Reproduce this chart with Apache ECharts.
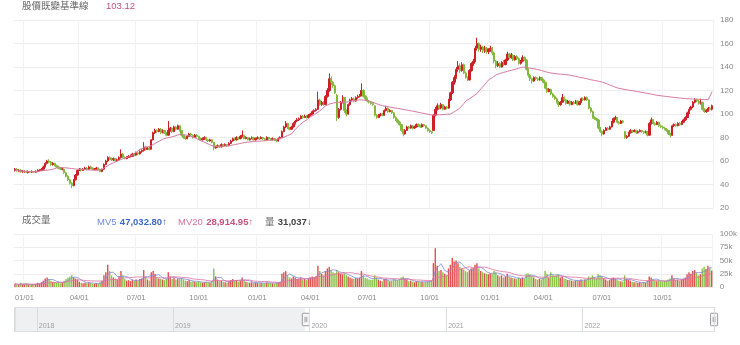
<!DOCTYPE html>
<html>
<head>
<meta charset="utf-8">
<script src="https://cdn.jsdelivr.net/npm/echarts@6/dist/echarts.min.js"></script>
<style>html,body{margin:0;padding:0;background:#fff;}#chart{width:740px;height:345px;}</style>
</head>
<body>
<div id="chart"></div>
<script>
// each row: [open, close, low, high, volume (thousands), baseline]
const dec2019 = [
[52,53,51,54,6,52],[53,52,51,54,4,51.8],[51,52,51,53,5,51.6],[52,51,50,53,8,51.5],[51,51.5,50,52,5,51.3]
];
const q1_2020 = [
[51,51,50,52,5,51.2],[51,50.5,50,52,6,51.1],[50,51,49.5,52,5,51],[51,50.5,50,51.5,4,51],[50.5,51,50,52,5,51],
[51,50.5,50,51.5,4,51],[50.5,51,50,52,6,51],[51,52,50.5,53,8,51.2],[52,52,51,53,7,51.4],[52,53,51.5,54,9,51.6],
[53,55,52.5,56,12,51.8],[55,58,54.5,59,16,52],[58,60,57,61,18,52.2],[60,59,58,61.5,15,52.4],[59,57,56,60,12,52.6],
[57,58,56,59,10,53],[58,56,55.5,58.5,9,53.5],[56,55,54,57,8,54],[55,54,53,56,9,54.3],[54,53,52.5,55,7,54.5],
[53,53,52,54,8,54.4],[53,50,49,53.5,12,54.3],[50,47,46,51,15,54.2],[47,44,43,48,18,54],[44,41,40,45,20,53.8],
[41,39,37,42,22,53.6],[39,44,38.5,44.5,18,53.4],[44,48,43.5,49,16,53.2],[48,52,47.5,52.5,14,53]
];
const q2_2020 = [
[52,53,51.5,54,10,52.9],[53,52,51,54,8,52.8],[52,53,51.5,54,7,52.7],[53,54,52.5,55,8,52.6],[54,53,52,55,7,52.5],
[53,55,52.5,56,9,52.4],[55,54,53,56,8,52.3],[54,53,52.5,54.5,6,52.2],[53,53,52,54,6,52.2],[53,54,52.5,55,7,52.1],
[54,53,52,54.5,6,52.1],[53,51,50.5,53.5,9,52],[51,53,50.5,53.5,12,53],[53,57,52.5,58,22,54],[57,60,56.5,61,28,55],
[60,63,59,64,42,56],[63,62,61,64,30,57],[62,61,60,63,22,57.8],[61,62,60,63,18,58.5],[62,60,59.5,62.5,16,59.3],
[60,61,59.5,62,14,60],[61,63,60.5,64,20,60.7],[63,66,62,70,30,61.3],[66,63,62.5,67,22,61.9],[63,62,61.5,64,15,62.5],
[62,63,61.5,64,12,63],[63,64,62.5,65,13,63.6],[64,64,63,65.5,11,64],[64,66,63.5,67,14,65],[66,65,64,67,12,66]
];
const q3_2020 = [
[65,67,64.5,68,14,67.5],[67,66,65,68,12,68.5],[66,68,65.5,69,15,70],[68,69,67,70,16,70.5],[69,72,68,76,32,71],
[72,70,69,73,20,71.5],[70,71,69.5,72,14,72],[71,70,69,72,12,72.5],[70,78,70,78.5,28,73],[78,84,77.5,85,30,74],
[84,86,83,87.5,25,75],[86,85,84,87,18,75.8],[85,87,84.5,88,16,76.7],[87,84,83,88,15,77.6],[84,86,83.5,87,14,78.5],
[86,84,83,86.5,13,79.2],[84,82,81,84.5,16,79.5],[82,86,81.5,94,28,79.8],[86,88,85,89,20,80.2],[88,85,84,88.5,15,80.6],
[85,89,84.5,90,18,81],[89,87,86,90,14,81.6],[87,90,86.5,91,16,82.2],[90,86,85,90.5,15,83],[86,82,81,86.5,17,82.8],
[82,80,79,83,14,82.5],[80,79,78,81,12,82.2],[79,81,78.5,82,11,81.9],[81,83,80.5,84,13,81.5],[83,82,81,84,10,81],
[82,80,79,82.5,11,80.4],[80,82,79.5,83,10,79.8],[82,81,80,83,9,79]
];
const q4_2020 = [
[81,79,78,81.5,10,78.2],[79,78,77,80,9,77.4],[78,79,77.5,80,8,76.7],[79,80,78,81,9,76],[80,78,77,80.5,10,75.2],
[78,77,76,78.5,9,74.5],[77,78,76.5,79,8,73.7],[78,76,75,78.5,11,73],[76,71,69,76,35,72.2],[71,72,70.5,73,20,72.2],
[72,73,71.5,74,14,72.3],[73,72,71,73.5,11,72.4],[72,74,71.5,75,12,72.5],[74,73,72,74.5,10,72.6],[73,74,72.5,75,9,72.7],
[74,73,72,74.5,8,72.8],[73,75,72.5,76,11,73],[75,77,74.5,78,13,73.3],[77,79,76.5,80,15,73.7],[79,78,77,80,12,74],
[78,80,77.5,81,13,74.3],[80,79,78,80.5,10,74.6],[79,81,78.5,82,12,75],[81,82,80,86,18,75.3],[82,79,78.5,82.5,13,75.6],
[79,80,78.5,81,10,75.9],[80,78,77.5,80.5,9,76.1],[78,79,77.5,80,8,76.3],[79,80,78.5,81,9,76.5],[80,78,77.5,80.5,8,76.6],
[78,79,77.5,80,8,76.7]
];
const q1_2021 = [
[79,80,78.5,81,8,76.8],[80,79,78,80.5,7,76.9],[79,80,78.5,81,8,77],[80,79,78,80.5,7,77],[79,78,77,79.5,7,77.2],
[78,80,77.5,81,9,77.4],[80,79,78,80.5,8,77.6],[79,78,77.5,79.5,7,77.8],[78,79,77.5,80,7,78],[79,78,77,79.5,6,78.2],
[78,77,76,78.5,8,78.4],[77,79,76.5,80,9,78.7],[79,80,78.5,81,10,79],[80,85,79.5,86,25,79.6],[85,89,84.5,90,28,80.2],
[89,92,88,94,30,81],[92,88,87,92.5,22,81.7],[88,87,86,89,18,82],[87,89,86.5,90,16,83],[89,92,88.5,93,20,84.5],
[92,94,91,95,18,87],[94,95,93,96.5,15,88.5],[95,96,94,97,16,90],[96,98,95.5,99,18,91.5],[98,97,96,99,14,93],
[97,98,96.5,99.5,15,94],[98,97,96,99,13,95],[97,99,96.5,100,16,96]
];
const q2_2021 = [
[99,100,98,101,18,97.5],[100,102,99.5,103,20,98.5],[102,103,101,104,18,99.5],[103,104,102,105,20,100.5],[104,112,103.5,119,40,101.5],
[112,108,107,113,30,103],[108,110,107,111,25,104],[110,108,107,111,22,105.5],[108,115,107.5,116,30,107],[115,120,114,122,35,108],
[120,130,119,134.5,38,108.5],[130,127,125,132,32,109],[127,124,122,128,28,109.3],[124,118,117,125,26,109.7],[116,97,94,117,32,110],
[97,104,96,105,28,110],[104,110,103,111,25,110],[110,114,109,116,24,110],[114,103,101,114.5,26,110],[103,100,98,104,22,110.2],
[100,108,99.5,109,20,110.4],[108,112,107,113,18,110.6],[112,113,111,114.5,16,111],[113,111,110,114,15,111.3],[111,114,110.5,115,17,111.6],
[114,115,113,116.5,16,111.8],[115,116,114,117,18,112],[116,120,115,126,30,112],[120,115,114,121,22,111.9],[115,113,112,116,17,111.7]
];
const q3_2021 = [
[113,111,110,114,16,111.3],[111,110,109,112,14,111.1],[110,109,108,111,13,110.6],[109,108,107,110,14,110],[107,99,98,107.5,22,109.3],
[99,97,96,100,18,108.7],[97,99,96.5,100,14,108.1],[99,100,98,101,12,107.6],[100,99,98,101,11,107.1],[99,103,98.5,104,15,106.8],
[103,105,102,107,16,106.5],[105,102,101,105.5,13,106.2],[102,103,101.5,104,11,105.9],[103,101,100,103.5,12,105.6],[101,97,96,101.5,15,105.3],
[97,95,94,98,14,105],[95,93,92,96,13,104.8],[93,91,90,94,14,104.5],[91,86,85,91.5,18,104.2],[86,83,81,87,20,103.9],
[83,86,82.5,87,15,103.6],[86,89,85.5,90,14,103.3],[89,88,87,90,11,103],[88,90,87.5,91,12,102.7],[90,88,87,90.5,10,102.4],
[88,89,87.5,90,9,102.1],[89,91,88.5,92,11,101.8],[91,90,89,92,10,101.5],[90,89,88,91,9,101.1],[89,91,88.5,92,10,100.7],
[91,90,89,91.5,9,100.4],[90,88,87,90.5,10,100.1],[88,86,85,88.5,11,99.8]
];
const q4_2021 = [
[86,85,84,87,10,99.4],[85,84,83,85.5,12,99.1],[86,99,85.5,100,45,99],[99,104,98,106,73,99.1],[104,107,103,109,40,99.2],
[107,105,104,108,30,99.3],[105,108,104,109.5,32,99.4],[108,104,103,108.5,28,99.5],[104,106,103.5,107,25,99.6],[106,105,104,107,22,99.8],
[105,112,104.5,113,35,99.9],[112,118,111,119,42,100],[118,127,117,128,55,101],[127,131,125,133,48,102],[131,138,130,140,50,103],
[138,141,136,145,45,104],[141,137,135,143,38,105],[137,142,136,144,35,107],[142,135,134,143,33,109],[135,131,130,136,30,111],
[131,129,128,132,28,112],[129,137,128.5,138,32,113],[137,143,136,144,35,114],[143,145,141,147,36,115.3],[145,156,144,158,42,116.5],
[156,160,154,165,45,117.5],[160,155,153,161,35,119.5],[155,157,153,159,30,121.5],[157,154,152,158,28,123],[154,156,152,158,26,125],
[156,153,151,157,25,127],[153,155,151,156,24,129]
];
const q1_2022 = [
[155,156,153,158,26,130],[156,152,150,157,25,131],[152,145,143,153,30,132.2],[145,141,139,146,28,133.3],[141,143,140,145,22,134],
[143,140,139,144,20,134.5],[140,144,139.5,145,22,135],[144,142,141,146,18,135.4],[142,146,141.5,147,20,135.8],[146,151,145,153,25,136.3],
[151,148,147,152,20,136.8],[148,150,147,152,18,137.2],[150,146,145,151,17,137.6],[146,149,145.5,150,16,138],[149,147,146,150,15,138.5],
[147,143,142,148,18,139],[143,145,142,146,16,139.5],[145,148,144,150,18,140],[148,146,145,149,16,140],[146,138,137,146.5,25,139.7],
[138,133,131,139,26,139.4],[133,130,128,134,24,139],[130,128,126,131,20,138.8],[128,131,127.5,132,18,138.5],[131,130,129,132,15,138.1],
[130,129,128,131,14,137.8],[129,131,128.5,132,15,137.4],[131,129,128,131.5,14,137]
];
const q2_2022 = [
[129,127,126,130,18,136.4],[127,122,121,127.5,30,136],[122,119,118,123,25,135.6],[119,121,118.5,122,18,135.2],[121,117,116,121.5,28,134.9],
[117,115,114,118,22,134.6],[115,113,112,116,20,134.4],[113,110,109,114,22,134.2],[110,108,106,111,24,134],[108,110,107,111,18,133.9],
[110,114,109.5,117,20,133.8],[114,112,111,115,16,133.6],[112,109,108,113,15,133.5],[109,111,108.5,112,13,133.3],[111,108,107,111.5,14,133],
[108,110,107.5,111,12,132.7],[110,109,108,111,11,132.3],[109,111,108.5,112,12,132],[111,108,107,111.5,13,131.6],[108,110,107.5,111,12,131.3],
[110,113,109.5,114,14,131],[113,112,111,114,12,130.7],[112,114,111.5,115,14,130.3],[114,112,111,115,13,130],[112,105,104,112.5,20,129.6],
[105,102,101,106,18,129.2],[102,97,96,103,22,128.8],[97,96,95,98,18,128.5],[96,95,94,97,16,128.2],[95,88,87,95.5,24,127.9],
[88,85,84,89,22,127.7]
];
const q3_2022 = [
[85,83,81,86,20,127.2],[83,86,82.5,87,16,126.6],[86,88,85.5,89,14,126],[88,87,86,89,12,125.4],[87,89,86.5,90,13,124.7],
[89,93,88.5,94,16,124],[93,96,92,97,18,123.4],[96,97,95,98.5,16,122.8],[97,93,92,97.5,14,122.2],[93,92,91,94,12,121.8],
[92,94,91.5,95,11,121.5],[94,93,92,95,10,121.2],[85,80,79,85.5,22,120.9],[80,81,79,82,15,120.6],[81,84,80.5,85,13,120.3],
[84,86,83.5,87,12,120],[86,85,84,86.5,10,119.8],[85,86,84.5,87,9,119.5],[86,84,83,86.5,9,119.2],[84,85,83.5,86,8,119],
[85,86,84.5,87,9,118.7],[86,85,84,86.5,8,118.4],[85,84,83,85.5,9,118.1],[84,85,83.5,86,8,117.8],[85,82,81,85.5,12,117.5],
[82,92,81.5,93,20,117.2],[92,95,91,97,18,116.9],[95,92,91,95.5,14,116.5],[92,91,90,93,12,116.2],[91,93,90.5,94,11,116],
[93,90,89,93.5,12,115.7],[90,89,88,91,11,115.5]
];
const q4_2022 = [
[89,88,87,90,10,115.3],[88,87,86,89,11,115.1],[87,86,85,88,12,114.9],[86,83,82,86.5,14,114.7],[83,82,80,84,16,114.5],
[82,90,81.5,91,22,114.3],[90,91,89,92,16,114.1],[91,90,89,92,13,113.9],[90,92,89.5,93,14,113.8],[92,91,90,93,12,113.6],
[91,93,90.5,94,14,113.4],[93,95,92.5,96,16,113.2],[95,97,94,98,18,113.1],[97,101,96.5,102,24,113],[101,104,100,106,28,112.9],
[104,106,103,107,25,112.8],[106,110,105,111,30,112.7],[110,112,109,113.5,32,112.6],[112,111,110,113,26,112.6],[111,109,108,112,22,112.5],
[109,110,108,113,24,112.5],[110,104,103,110.5,35,112.4],[104,102,101,105,38,112.3],[102,103,101,104,34,112.3],[103,105,102,106,40,112.2],
[105,104,103,106,36,112.1],[104,107,103,108,31.037,119]
];

const periods = [dec2019,q1_2020,q2_2020,q3_2020,q4_2020,q1_2021,q2_2021,q3_2021,q4_2021,q1_2022,q2_2022,q3_2022,q4_2022];
const periodBounds = ['2019-12-13','2020-01-01','2020-04-01','2020-07-01','2020-10-01','2021-01-01','2021-04-01','2021-07-01','2021-10-01','2022-01-01','2022-04-01','2022-07-01','2022-10-01','2022-12-19'];
const historyStart = '2017-11-01';
const historySlots = 260;
const sliderRange = ['2017-11-01','2022-12-19'];
const titleText = '股價既變基準線';
const titleValue = '103.12';
const mvLabels = {mv5:'47,032.80↑', mv20:'28,914.95↑', vol:'31,037↓'};

const UP = '#cf1f26', DOWN = '#82b93c';
const FONT = '"Liberation Sans","Noto Sans CJK TC",sans-serif';

function ymd(t){const d=new Date(t);return d.getUTCFullYear()+'/'+String(d.getUTCMonth()+1).padStart(2,'0')+'/'+String(d.getUTCDate()).padStart(2,'0');}
function spread(a,b,n){const t0=Date.parse(a+'T00:00:00Z'),t1=Date.parse(b+'T00:00:00Z');const day=86400000;const out=[];for(let k=0;k<n;k++)out.push(ymd(t0+Math.floor(k*(t1-t0)/n/day)*day));return out;}

let cats = spread(historyStart, periodBounds[0], historySlots);
periods.forEach((p,i)=>{cats = cats.concat(spread(periodBounds[i], periodBounds[i+1], p.length));});
const rows = [].concat(...periods);
const pad = Array(historySlots).fill('-');

const candleData = pad.concat(rows.map(r=>[r[0],r[1],r[2],r[3]]));
const volData = pad.concat(rows.map(r=>({value:r[4], itemStyle:{color: r[1]>=r[0]?'#e0524f':'#8cc24a'}})));
const baseData = pad.concat(rows.map(r=>r[5]));
function ma(n){return pad.concat(rows.map((r,j)=>{const s=rows.slice(Math.max(0,j-n+1),j+1);return +(s.reduce((a,x)=>a+x[4],0)/s.length).toFixed(2);}));}
const mv5 = ma(5), mv20 = ma(20);

const isQuarter = v => /\/(01|04|07|10)\/01$/.test(v);

const chart = echarts.init(document.getElementById('chart'), null, {renderer:'canvas'});
chart.setOption({
  animation:false,
  backgroundColor:'#ffffff',
  textStyle:{fontFamily:FONT},
  grid:[
    {left:14, right:27, top:20, height:188},
    {left:14, right:27, top:234, height:53},
    {left:14, right:26, top:307, height:25}
  ],
  xAxis:[
    {type:'category', gridIndex:0, data:cats, boundaryGap:true,
     axisLine:{show:false}, axisTick:{show:false}, axisLabel:{show:false},
     splitLine:{show:true, interval:(i,v)=>isQuarter(v), lineStyle:{color:'#f2f2f2'}}},
    {type:'category', gridIndex:1, data:cats, boundaryGap:true,
     axisLine:{show:false}, axisTick:{show:false},
     axisLabel:{interval:(i,v)=>isQuarter(v), formatter:v=>v.slice(5), color:'#888', fontSize:7.5, margin:7},
     splitLine:{show:true, interval:(i,v)=>isQuarter(v), lineStyle:{color:'#f2f2f2'}}},
    {type:'time', gridIndex:2, min:sliderRange[0], max:sliderRange[1], z:10,
     axisLine:{show:false}, axisTick:{show:false},
     splitLine:{show:true, lineStyle:{color:'#d9dce0'}},
     axisLabel:{inside:true, showMinLabel:false, showMaxLabel:false, align:'left', verticalAlign:'bottom',
       margin:2, padding:[0,0,0,2], color:'#a0a0a0', fontSize:7,
       formatter:(val)=>{const d=new Date(val);return (d.getMonth()===0&&d.getDate()===1)?String(d.getFullYear()):'';}}}
  ],
  yAxis:[
    {type:'value', gridIndex:0, position:'right', min:20, max:180, interval:20,
     axisLine:{show:false}, axisTick:{show:false},
     axisLabel:{color:'#888', fontSize:8, margin:7},
     splitLine:{lineStyle:{color:'#ededed'}}},
    {type:'value', gridIndex:1, position:'right', min:0, max:100, interval:25,
     axisLine:{show:false}, axisTick:{show:false},
     axisLabel:{color:'#888', fontSize:8, margin:7, formatter:v=>v===0?'0':v+'k'},
     splitLine:{lineStyle:{color:'#ededed'}}},
    {type:'value', gridIndex:2, show:false}
  ],
  dataZoom:[{
    type:'slider', xAxisIndex:[0,1], startValue:historySlots, endValue:cats.length-1,
    left:14, right:26, top:307, height:25, z:2,
    showDetail:false, showDataShadow:false, brushSelect:false, moveHandleSize:0, borderRadius:0,
    backgroundColor:'#eef0f2', fillerColor:'#ffffff', borderColor:'#dcdfe3',
    handleIcon:'path://M1,0 H7 Q8,0 8,1 V13 Q8,14 7,14 H1 Q0,14 0,13 V1 Q0,0 1,0 Z M3,4 V10 M5,4 V10',
    handleSize:'50%', handleStyle:{color:'#f6f6f6', borderColor:'#9a9a9a', borderWidth:1}
  }],
  series:[
    {type:'candlestick', xAxisIndex:0, yAxisIndex:0, data:candleData, large:false, barWidth:'95%',
     itemStyle:{color:UP, color0:DOWN, borderColor:UP, borderColor0:DOWN, borderColorDoji:UP, borderWidth:1}},
    {type:'line', xAxisIndex:0, yAxisIndex:0, data:baseData, showSymbol:false, symbol:'none',
     lineStyle:{color:'#d87aa2', width:1}, z:3},
    {type:'bar', xAxisIndex:1, yAxisIndex:1, data:volData, barWidth:'75%'},
    {type:'line', xAxisIndex:1, yAxisIndex:1, data:mv5, symbol:'none', lineStyle:{color:'#7f89dc', width:0.8}},
    {type:'line', xAxisIndex:1, yAxisIndex:1, data:mv20, symbol:'none', lineStyle:{color:'#e2709f', width:0.8}}
  ],
  graphic:[
    {type:'text', left:22, top:2, style:{text:titleText, fill:'#666', fontSize:9.5, fontFamily:FONT}},
    {type:'text', left:106, top:2, style:{text:titleValue, fill:'#c6507f', fontSize:9.5, fontFamily:FONT}},
    {type:'text', left:22, top:216, style:{text:'成交量', fill:'#666', fontSize:9.5, fontFamily:FONT}},
    {type:'text', left:97, top:216, style:{text:'{a|MV5} {b|'+mvLabels.mv5+'}', fontFamily:FONT,
      rich:{a:{fill:'#6d8bd8', fontSize:9.5, fontFamily:FONT}, b:{fill:'#3e68c6', fontSize:9.5, fontWeight:'bold', fontFamily:FONT}}}},
    {type:'text', left:178, top:216, style:{text:'{a|MV20} {b|'+mvLabels.mv20+'}', fontFamily:FONT,
      rich:{a:{fill:'#d7709a', fontSize:9.5, fontFamily:FONT}, b:{fill:'#c8517f', fontSize:9.5, fontWeight:'bold', fontFamily:FONT}}}},
    {type:'text', left:265, top:216, style:{text:'{a|量} {b|'+mvLabels.vol+'}', fontFamily:FONT,
      rich:{a:{fill:'#666', fontSize:9.5, fontFamily:FONT}, b:{fill:'#444', fontSize:9.5, fontWeight:'bold', fontFamily:FONT}}}}
  ]
});
</script>
</body>
</html>
